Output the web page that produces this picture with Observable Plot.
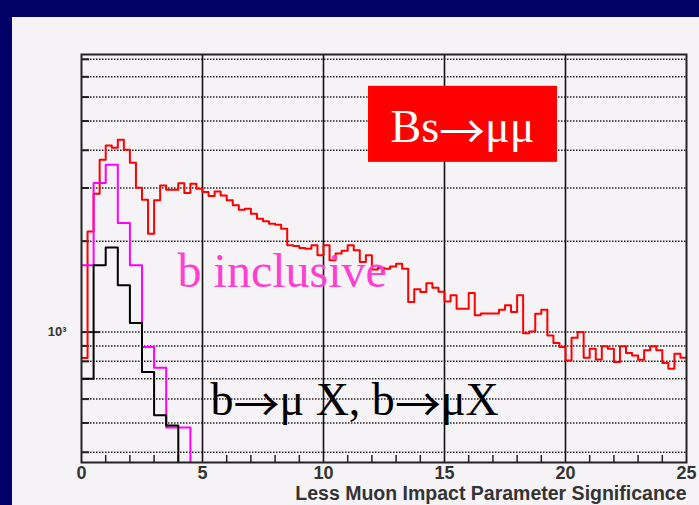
<!DOCTYPE html>
<html><head><meta charset="utf-8">
<script src="https://cdn.jsdelivr.net/npm/d3@7"></script>
<script src="https://cdn.jsdelivr.net/npm/@observablehq/plot@0.6"></script>
<style>
html,body{margin:0;padding:0;background:#000066;width:699px;height:505px;overflow:hidden;}
#panel{position:absolute;left:12px;top:17px;width:687px;height:488px;background:#f6f3f6;}
#chart{position:absolute;left:0;top:0;}
</style></head><body>
<div id="panel"></div>
<div id="chart"></div>
<script>
// Bs -> mu mu (red), 0.25-wide bins from 0 to 25
const redCounts = [821,2155,2872,3723,4150,4080,4336,4018,3638,3007,
  2743,2118,2730,3060,2962,2962,3113,2886,3100,2985,
  2908,2820,2923,2835,2730,2628,2543,2563,2466,2375,
  2326,2285,2268,2200,1937,1927,1897,1888,1937,1795,
  1937,1730,1820,1860,1937,1865,1705,1795,1610,1634,
  1622,1650,1685,1622,1257,1385,1357,1450,1403,1360,
  1262,1323,1195,1195,1346,1136,1153,1153,1153,1186,
  1226,1165,1323,992,1004,1150,1186,975,920,892,
  806,958,1000,823,881,812,897,881,796,897,
  852,837,810,870,897,870,790,756,848,823];
// b inclusive (magenta), 0.5-wide bins
const magentaCounts = [1663,3114,3584,2296,1663,892,762,483,483];
// b -> mu X (black), 0.5-wide bins
const blackCounts = [701,1663,1904,1428,1071,737,530,491];
const redBinWidth = 0.25;
const coarseBinWidth = 0.5;
const xTicks = [0,5,10,15,20,25];
const xGrid = [5,10,15,20];
const xMinorTicks = [1,2,3,4,6,7,8,9,11,12,13,14,16,17,18,19,21,22,23,24];
const yMinorTicks = [400,500,600,700,800,900,2000,3000,4000,5000,6000,7000,8000];
const yMajorTicks = [1000];
const labels = {
  title: "Bs→μμ",
  incl: "b inclusive",
  bmu: "b→μ X, b→μX",
  xLabel: "Less Muon Impact Parameter Significance",
  yLabel: "10³"
};

function steps(counts, w, tail) {
  const pts = counts.map((v, i) => ({x: i * w, y: v}));
  pts.push({x: counts.length * w, y: tail === undefined ? counts[counts.length - 1] : tail});
  return pts;
}

const W = 699, H = 505, mL = 81, mR = 13, mT = 54, mB = 43;
const fw = W - mL - mR, fh = H - mT - mB;
const sans = "'Liberation Sans', Arial, sans-serif";
const serif = "'Liberation Serif', 'Times New Roman', serif";

const chart = Plot.plot({
  width: W, height: H,
  marginLeft: mL, marginRight: mR, marginTop: mT, marginBottom: mB,
  style: {background: "transparent", fontFamily: sans},
  x: {domain: [0, 25], axis: null},
  y: {type: "log", domain: [370, 8300], axis: null},
  marks: [
    Plot.ruleY(yMinorTicks.concat(yMajorTicks), {stroke: "#222", strokeWidth: 1.5, strokeDasharray: "1.5,1.5"}),
    Plot.ruleX(xGrid, {stroke: "#111", strokeWidth: 1.6}),
    Plot.ruleX(xMinorTicks, {stroke: "#222", strokeWidth: 1.5, insetTop: fh - 7}),
    Plot.ruleY(yMinorTicks, {stroke: "#222", strokeWidth: 2, insetRight: fw - 8}),
    Plot.ruleY(yMajorTicks, {stroke: "#222", strokeWidth: 2, insetRight: fw - 19}),
    Plot.line(steps(redCounts, redBinWidth), {x: "x", y: "y", curve: "step-after", stroke: "#ff0000", strokeWidth: 2, clip: true}),
    Plot.line(steps(magentaCounts, coarseBinWidth, 1), {x: "x", y: "y", curve: "step-after", stroke: "#ff00ff", strokeWidth: 2, clip: true}),
    Plot.line(steps(blackCounts, coarseBinWidth, 1), {x: "x", y: "y", curve: "step-after", stroke: "#000000", strokeWidth: 2, clip: true}),
    Plot.rect([labels.title], {x1: () => 11.86, x2: () => 19.67, y1: () => 3647, y2: () => 6511, fill: "#ff0000"}),
    Plot.text([labels.title], {x: () => 15.74, y: () => 4249, text: d => d, fill: "white", fontSize: 46, fontFamily: serif, lineAnchor: "bottom", textAnchor: "middle", className: "arrowtext"}),
    Plot.text([labels.incl], {x: () => 3.97, y: () => 1406, text: d => d, fill: "#ff3fd2", fontSize: 48, fontFamily: serif, lineAnchor: "bottom", textAnchor: "start"}),
    Plot.text([labels.bmu], {x: () => 5.33, y: () => 530, text: d => d, fill: "#000", fontSize: 46, fontFamily: serif, lineAnchor: "bottom", textAnchor: "start", className: "arrowtext"}),
    Plot.frame({stroke: "#222", strokeWidth: 2}),
    Plot.text(xTicks, {x: d => d, frameAnchor: "bottom", dy: 16, lineAnchor: "bottom", text: d => String(d), fontSize: 18, fontWeight: "bold", fill: "#333"}),
    Plot.text([labels.xLabel], {frameAnchor: "bottom-right", dy: 37, textAnchor: "end", lineAnchor: "bottom", text: d => d, fontSize: 19.5, fontWeight: "bold", fill: "#333"}),
    Plot.text([labels.yLabel], {frameAnchor: "left", y: () => 1000, dx: -15, textAnchor: "end", text: d => d, fontSize: 13, fontWeight: "bold", fill: "#333"})
  ]
});

// Render the arrow glyph with a font whose arrow is long and thin (like the Symbol-font arrow)
const NS = "http://www.w3.org/2000/svg";
chart.querySelectorAll(".arrowtext text").forEach(t => {
  const s = t.textContent;
  t.textContent = "";
  s.split("→").forEach((part, i) => {
    if (i > 0) {
      const a = document.createElementNS(NS, "tspan");
      a.setAttribute("font-family", "'Noto Sans CJK JP'");
      a.setAttribute("font-size", "46");
      a.setAttribute("dy", "6");
      a.textContent = "→";
      t.appendChild(a);
    }
    const p = document.createElementNS(NS, "tspan");
    if (i > 0) p.setAttribute("dy", "-6");
    p.textContent = part;
    t.appendChild(p);
  });
});
document.getElementById("chart").appendChild(chart);
</script>
</body></html>
